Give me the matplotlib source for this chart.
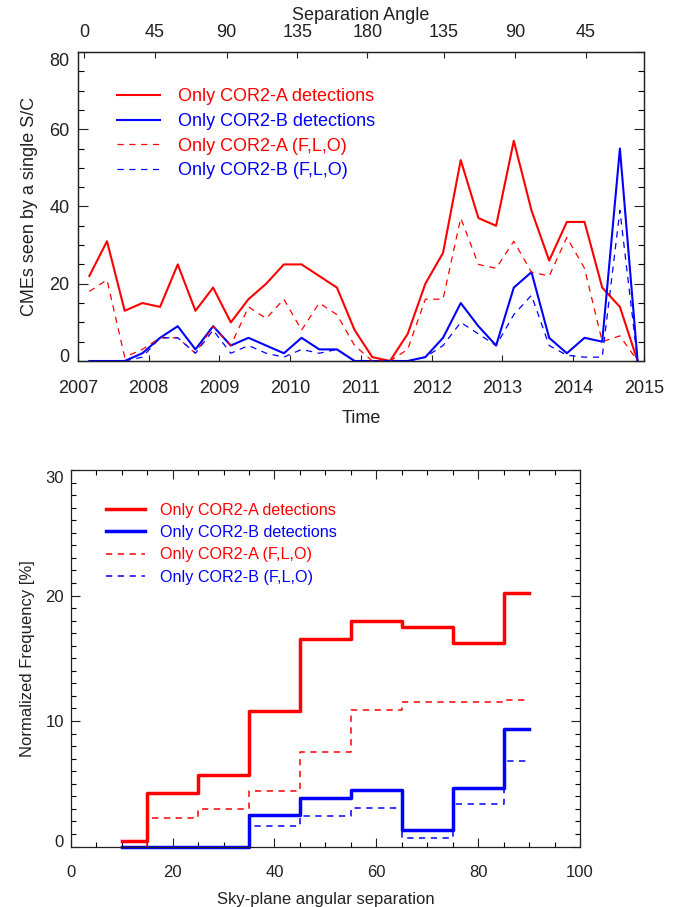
import matplotlib
matplotlib.use('Agg')
import matplotlib.pyplot as plt
from matplotlib.ticker import MultipleLocator, FixedLocator, NullLocator
from matplotlib.transforms import ScaledTranslation

plt.rcParams['font.family'] = ['Liberation Sans', 'DejaVu Sans']
plt.rcParams['lines.scale_dashes'] = False

# ---------------- top panel data ----------------
time = [2007.16, 2007.41, 2007.66, 2007.91, 2008.16, 2008.41, 2008.66, 2008.91,
        2009.16, 2009.41, 2009.66, 2009.91, 2010.16, 2010.41, 2010.66, 2010.91,
        2011.16, 2011.41, 2011.66, 2011.91, 2012.16, 2012.41, 2012.66, 2012.91,
        2013.16, 2013.41, 2013.66, 2013.91, 2014.16, 2014.41, 2014.66, 2014.91]
only_a = [22, 31, 13, 15, 14, 25, 13, 19, 10, 16, 20, 25, 25, 22, 19, 8,
          1, 0, 7, 20, 28, 52, 37, 35, 57, 39, 26, 36, 36, 19, 14, 0]
only_b = [0, 0, 0, 2, 6, 9, 3, 9, 4, 6, 4, 2, 6, 3, 3, 0,
          0, 0, 0, 1, 6, 15, 9, 4, 19, 23, 6, 2, 6, 5, 55, 0]
only_a_flo = [18, 21, 1, 3, 6, 6, 2, 9, 4, 14, 11, 16, 8, 15, 12, 4,
              0, 0, 3, 16, 16, 37, 25, 24, 31, 23, 22, 32, 24, 5, 6.5, 0]
only_b_flo = [0, 0, 0, 1, 6, 6, 2, 8, 2, 4, 2, 1, 3, 2, 3, 0,
              0, 0, 0, 1, 4, 10, 7, 4, 12, 17, 4, 1.5, 1, 1, 39, 0]

sep_tick_pos = [2007.085, 2008.09, 2009.10, 2010.10, 2011.09, 2012.17, 2013.18, 2014.18]
sep_tick_lab = ['0', '45', '90', '135', '180', '135', '90', '45']
year_ticks = [2007, 2008, 2009, 2010, 2011, 2012, 2013, 2014, 2015]
count_ticks = [0, 20, 40, 60, 80]

# ---------------- bottom panel data ----------------
sep = [10, 20, 30, 40, 50, 60, 70, 80, 90]
freq_a = [0.4, 4.3, 5.7, 10.8, 16.5, 18.0, 17.5, 16.2, 20.2]
freq_b = [0, 0, 0, 2.5, 3.9, 4.5, 1.3, 4.7, 9.4]
freq_a_flo = [0, 2.3, 3.0, 4.4, 7.5, 10.9, 11.5, 11.5, 11.7]
freq_b_flo = [0, 0, 0, 1.6, 2.4, 3.05, 0.7, 3.4, 6.8]
freq_ticks = [0, 10, 20, 30]

labels = ['Only COR2-A detections', 'Only COR2-B detections',
          'Only COR2-A (F,L,O)', 'Only COR2-B (F,L,O)']

RED = '#ff0000'
BLUE = '#0000ff'
DARK = '#222222'
DASH = (4.5, 4.0)

fig = plt.figure(figsize=(6.8, 9.07), dpi=100)


def shift_end_labels(ax, n, down_px_top, up_px_bottom):
    ticks = ax.yaxis.get_major_ticks(n)
    lb = ticks[0].label1
    lb.set_transform(lb.get_transform() + ScaledTranslation(0, up_px_bottom / 100, fig.dpi_scale_trans))
    lt = ticks[n - 1].label1
    lt.set_transform(lt.get_transform() + ScaledTranslation(0, -down_px_top / 100, fig.dpi_scale_trans))


# ================= TOP PANEL =================
ax1 = fig.add_axes([0.1147, 0.602, 0.8323, 0.3407])
fs1 = 13
h1, = ax1.plot(time, only_a, color=RED, lw=1.5, clip_on=False)
h2, = ax1.plot(time, only_b, color=BLUE, lw=1.5, clip_on=False)
h3, = ax1.plot(time, only_a_flo, color=RED, lw=0.9, dashes=DASH, clip_on=False)
h4, = ax1.plot(time, only_b_flo, color=BLUE, lw=0.9, dashes=DASH, clip_on=False)
ax1.set_xlim(2007, 2015)
ax1.set_ylim(0, 80)
ax1.xaxis.set_major_locator(FixedLocator(year_ticks))
ax1.xaxis.set_minor_locator(NullLocator())
ax1.yaxis.set_major_locator(FixedLocator(count_ticks))
ax1.yaxis.set_minor_locator(MultipleLocator(5))
ax1.tick_params(axis='x', which='major', direction='in', length=4.3, width=0.8,
                top=False, bottom=True, labelsize=fs1, pad=14, colors=DARK)
ax1.tick_params(axis='y', which='major', direction='in', length=7.5, width=0.8,
                left=True, right=True, labelsize=fs1, pad=6, colors=DARK)
ax1.tick_params(axis='y', which='minor', direction='in', length=4, width=0.8,
                left=True, right=True)
for s in ax1.spines.values():
    s.set_color(DARK)
    s.set_linewidth(0.9)
ax1.set_xlabel('Time', fontsize=fs1, color=DARK, labelpad=9)
ax1.set_ylabel('CMEs seen by a single S/C', fontsize=fs1, color=DARK, labelpad=8)
shift_end_labels(ax1, len(count_ticks), 8, 5)

axt = ax1.twiny()
axt.set_xlim(2007, 2015)
axt.xaxis.set_major_locator(FixedLocator(sep_tick_pos))
axt.set_xticklabels(sep_tick_lab)
axt.xaxis.set_minor_locator(NullLocator())
axt.tick_params(axis='x', which='major', direction='in', length=4, width=0.8,
                labelsize=fs1, pad=8, colors=DARK)
for s in axt.spines.values():
    s.set_color(DARK)
    s.set_linewidth(0.9)
axt.set_xlabel('Separation Angle', fontsize=fs1, color=DARK, labelpad=3)

leg1 = ax1.legend([h1, h2, h3, h4], labels, loc='upper left',
                  bbox_to_anchor=(0.069, 0.883), frameon=False, fontsize=fs1,
                  handlelength=2.4, handletextpad=0.95, labelspacing=0.43,
                  borderpad=0, borderaxespad=0, labelcolor='linecolor')

# ================= BOTTOM PANEL =================
ax2 = fig.add_axes([0.104, 0.0667, 0.749, 0.4151])
fs2 = 12
g1, = ax2.step(sep, freq_a, where='mid', color=RED, lw=2.5, clip_on=False)
g2, = ax2.step(sep, freq_b, where='mid', color=BLUE, lw=2.5, clip_on=False)
g3, = ax2.step(sep, freq_a_flo, where='mid', color=RED, lw=1.1, dashes=DASH, clip_on=False)
g4, = ax2.step(sep, freq_b_flo, where='mid', color=BLUE, lw=1.1, dashes=DASH, clip_on=False)
ax2.set_xlim(0, 100)
ax2.set_ylim(0, 30)
ax2.xaxis.set_major_locator(MultipleLocator(20))
ax2.xaxis.set_minor_locator(MultipleLocator(5))
ax2.yaxis.set_major_locator(FixedLocator(freq_ticks))
ax2.yaxis.set_minor_locator(MultipleLocator(1))
ax2.tick_params(axis='both', which='major', direction='in', length=6.5, width=0.8,
                top=True, right=True, labelsize=fs2, colors=DARK)
ax2.tick_params(axis='both', which='minor', direction='in', length=3.5, width=0.8,
                top=True, right=True)
ax2.tick_params(axis='x', which='major', pad=13)
ax2.tick_params(axis='y', which='major', pad=5)
for s in ax2.spines.values():
    s.set_color(DARK)
    s.set_linewidth(0.9)
ax2.set_xlabel('Sky-plane angular separation', fontsize=fs2, color=DARK, labelpad=9)
ax2.set_ylabel('Normalized Frequency [%]', fontsize=fs2, color=DARK, labelpad=7)
shift_end_labels(ax2, len(freq_ticks), 6.5, 6)

leg2 = ax2.legend([g1, g2, g3, g4], labels, loc='upper left',
                  bbox_to_anchor=(0.0687, 0.913), frameon=False, fontsize=11.6,
                  handlelength=2.45, handletextpad=0.94, labelspacing=0.45,
                  borderpad=0, borderaxespad=0, labelcolor='linecolor')

fig.savefig('out.png', dpi=100)
